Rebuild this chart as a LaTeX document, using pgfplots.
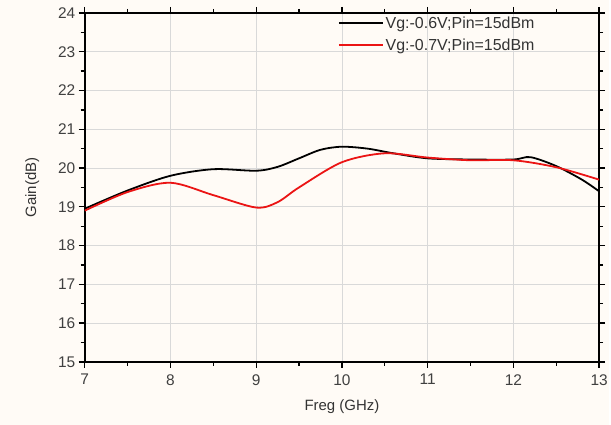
\documentclass[border=0pt]{standalone}
\usepackage{pgfplots}
\pgfplotsset{compat=1.18}
\usepackage{fontspec}
\setmainfont{Liberation Sans}
\definecolor{bgc}{RGB}{255,251,246}
\definecolor{lred}{RGB}{235,20,20}
\pgfplotsset{
  common/.style={
    scale only axis,
    width=516pt, height=350pt,
    at={(0,0)}, anchor=south west,
    xmin=7, xmax=13, ymin=15, ymax=24,
    legend cell align=left,
    legend image code/.code={\draw[##1] (0cm,0cm) -- (1.55cm,0cm);},
  },
  legsty/.style={legend style={draw=none, fill=none, at={(0.49,#1)}, anchor=north west,
    font=\fontsize{16}{18}\selectfont, text=black!80, inner sep=1pt}},
}
\begin{document}
\begin{tikzpicture}
\fill[bgc] (-85pt,-63pt) rectangle (526pt,363pt);
\begin{axis}[
  common, legsty=0.998,
  xtick={7,...,13}, ytick={15,...,24},
  minor x tick num=1, minor y tick num=1,
  tick align=outside,
  major tick length=6pt, minor tick length=4pt,
  axis line style={line width=1.6pt},
  every tick/.style={line width=1.3pt, black},
  grid=major,
  major grid style={gray!30, line width=0.6pt},
  axis background/.style={fill=bgc},
  ticklabel style={font=\fontsize{15.5}{17}\selectfont, text=black!75},
  xticklabel style={yshift=-3pt},
  /pgf/number format/assume math mode=true,
  xlabel={Freg (GHz)}, ylabel={Gain(dB)},
  label style={font=\fontsize{15}{17}\selectfont, text=black!80},
  xlabel style={yshift=-8pt},
  ylabel style={yshift=12pt},
]
\addplot[draw=black, line width=1.8pt, smooth, tension=0.5] coordinates {
(7,18.95) (7.5,19.42) (8,19.8) (8.5,19.97) (9,19.93) (9.25,20.03) (9.5,20.25) (9.75,20.47) (10,20.55) (10.3,20.5) (10.6,20.38) (11,20.25) (11.5,20.22) (12,20.22) (12.2,20.28) (12.5,20.05) (12.8,19.7) (13,19.4)
};
\addlegendentry{Vg:-0.6V;Pin=15dBm}
\end{axis}
\begin{axis}[
  common, legsty=0.935,
  hide axis,
]
\addplot[draw=lred, line width=1.8pt, smooth, tension=0.5] coordinates {
(7,18.9) (7.5,19.38) (8,19.62) (8.5,19.3) (9,18.98) (9.25,19.12) (9.5,19.5) (10,20.15) (10.5,20.38) (11,20.27) (11.5,20.2) (12,20.2) (12.5,20.02) (13,19.7)
};
\addlegendentry{Vg:-0.7V;Pin=15dBm}
\end{axis}
\end{tikzpicture}
\end{document}
